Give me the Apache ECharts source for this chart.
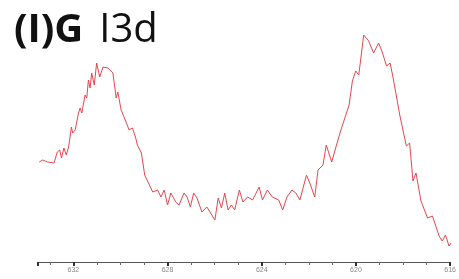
<!DOCTYPE html>
<html>
<head>
<meta charset="utf-8">
<script src="https://cdn.jsdelivr.net/npm/echarts@6/dist/echarts.min.js"></script>
<style>
  html, body { margin: 0; padding: 0; background: #fff; }
  #chart { width: 459px; height: 279px; }
</style>
</head>
<body>
<div id="chart"></div>
<script>
// binding energy (eV) and counts
const energy = [
  633.45, 633.30, 633.10, 632.82, 632.68, 632.58, 632.50, 632.40, 632.30, 632.20,
  632.08, 632.03, 631.92, 631.78, 631.71, 631.64, 631.50, 631.43, 631.36, 631.29,
  631.22, 631.11, 631.01, 630.88, 630.74, 630.53, 630.32, 630.18, 630.11, 629.97,
  629.83, 629.63, 629.49, 629.35, 629.28, 629.11, 628.97, 628.83, 628.63, 628.42,
  628.28, 628.14, 628.00, 627.86, 627.65, 627.51, 627.30, 627.17, 627.03, 626.89,
  626.75, 626.54, 626.33, 625.99, 625.85, 625.71, 625.57, 625.43, 625.29, 625.15,
  624.95, 624.80, 624.60, 624.39, 624.11, 623.97, 623.76, 623.55, 623.28, 623.11,
  622.93, 622.72, 622.55, 622.38, 622.10, 621.96, 621.75, 621.61, 621.40, 621.26,
  621.03, 620.85, 620.64, 620.50, 620.29, 620.15, 620.01, 619.88, 619.67, 619.46,
  619.25, 619.04, 618.90, 618.70, 618.55, 618.42, 618.14, 617.86, 617.72, 617.58,
  617.45, 617.24, 616.96, 616.75, 616.47, 616.33, 616.20, 616.05, 615.96
];
const counts = [
  100, 102, 100, 99, 110, 112, 104, 114, 107, 115,
  135, 129, 132, 149, 154, 149, 167, 164, 182, 174,
  189, 177, 199, 185, 195, 194, 189, 164, 170, 152,
  144, 132, 134, 124, 117, 109, 87, 80, 70, 72,
  65, 72, 57, 69, 60, 57, 69, 65, 55, 69,
  64, 50, 55, 42, 64, 54, 69, 52, 57, 52,
  72, 60, 65, 62, 75, 62, 72, 65, 62, 52,
  65, 72, 69, 62, 87, 79, 65, 92, 97, 117,
  100, 115, 132, 142, 157, 181, 191, 187, 227, 221,
  209, 219, 211, 196, 199, 184, 147, 116, 119, 81,
  89, 61, 44, 46, 26, 21, 27, 16, 19
];
const titleBold = '(I)G';
const titleRest = 'I3d';

const chart = echarts.init(document.getElementById('chart'));

chart.setOption({
  animation: false,
  title: {
    text: '{b|' + titleBold + '}{n|' + titleRest + '}',
    left: 9,
    top: 6,
    textStyle: {
      rich: {
        b: { fontFamily: 'Open Sans', fontWeight: 'bold', fontSize: 40, color: '#111' },
        n: { fontFamily: 'Open Sans', fontWeight: 'normal', fontSize: 40, color: '#111', padding: [0, 0, 0, 16] }
      }
    }
  },
  grid: { left: 38, right: 2, top: 0, bottom: 17 },
  xAxis: {
    type: 'value',
    inverse: true,
    min: 616,
    max: 633.5,
    interval: 4,
    axisLine: { lineStyle: { color: '#555', width: 1 } },
    axisTick: { length: 4, lineStyle: { color: '#333', width: 2 } },
    minorTick: { show: true, splitNumber: 4, length: 3, lineStyle: { color: '#666' } },
    axisLabel: { fontSize: 7, color: '#888', margin: 5, showMaxLabel: false },
    splitLine: { show: false }
  },
  yAxis: {
    type: 'value',
    min: 0,
    max: 262,
    show: false
  },
  series: [{
    type: 'line',
    data: energy.map((e, i) => [e, counts[i]]),
    showSymbol: false,
    lineStyle: { color: '#e2474d', width: 1 }
  }]
});
</script>
</body>
</html>
